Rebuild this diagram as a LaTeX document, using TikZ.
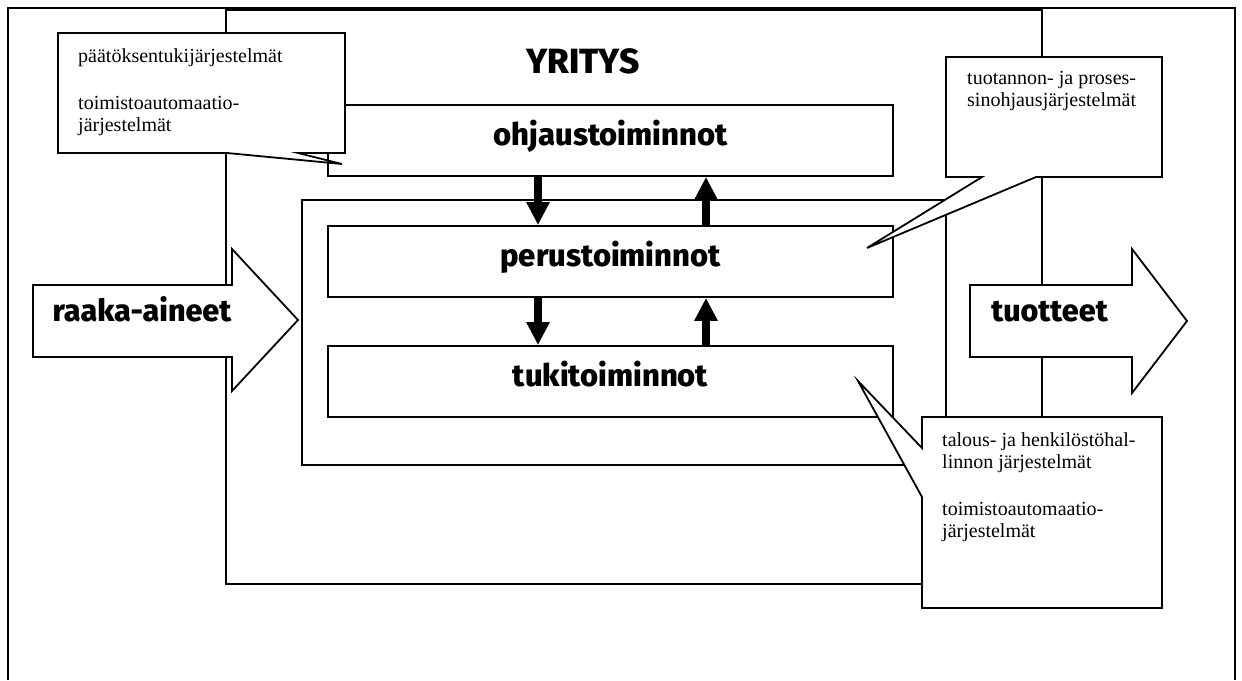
\documentclass[tikz,border=0pt]{standalone}
\usepackage{fontspec}
\setmainfont{Liberation Serif}
\newfontfamily\headfont{Fira Sans}[BoldFont={Fira Sans ExtraBold}]
\usetikzlibrary{arrows.meta}
\begin{document}
\begin{tikzpicture}[x=1pt,y=-1pt,
  frame/.style={line width=1.8pt},
  boxframe/.style={draw, line width=1.8pt, inner sep=0pt},
  stage/.style={boxframe, fill=white, minimum width=565pt, minimum height=71pt,
    text height=10pt, text depth=0pt,
    font=\headfont\bfseries\fontsize{31}{36}\selectfont},
  bigword/.style={inner sep=0pt, font=\headfont\bfseries\fontsize{30.5}{36}\selectfont},
  outline/.style={draw, line width=1.8pt, fill=white, line join=miter},
  note/.style={inner sep=0pt, anchor=north west, align=left,
    font=\fontsize{20}{22}\selectfont},
  vflow/.style={line width=8pt, -{Triangle[width=22pt,length=23pt]}}
]
\useasboundingbox (0,0) rectangle (1242,680);

% page frame, open at the bottom
\draw[frame] (8,680) -- (8,8) -- (1235,8) -- (1235,680);

% the company
\node[boxframe, minimum width=816pt, minimum height=574pt] (company) at (634,297) {};
\node[bigword, anchor=base, font=\headfont\bfseries\fontsize{35}{40}\selectfont] (title) at (583,73) {YRITYS};

% operational core
\node[boxframe, minimum width=644pt, minimum height=265pt] (core) at (624,332.5) {};

\node[stage] (ohj) at (610.5,140.5) {ohjaustoiminnot};
\node[stage] (per) at (610.5,261.5) {perustoiminnot};
\node[stage] (tuk) at (610.5,381.5) {tukitoiminnot};

% information flow between the levels
\draw[vflow] ([xshift=-72.5pt]ohj.south) -- ([xshift=-72.5pt]per.north);
\draw[vflow] ([xshift=95.5pt]per.north) -- ([xshift=95.5pt]ohj.south);
\draw[vflow] ([xshift=-72.5pt]per.south) -- ([xshift=-72.5pt]tuk.north);
\draw[vflow] ([xshift=95.5pt]tuk.north) -- ([xshift=95.5pt]per.south);

% inputs and outputs
\draw[outline] (33,285) -- (232,285) -- (232,249) -- (298,320) -- (232,391)
  -- (232,357) -- (33,357) -- cycle;
\node[bigword, anchor=base] (raw) at (142,321) {raaka-aineet};

\draw[outline] (970,285) -- (1132,285) -- (1132,249) -- (1187,321) -- (1132,393)
  -- (1132,357) -- (970,357) -- cycle;
\node[bigword, anchor=base] (out) at (1049.5,321) {tuotteet};

% information systems callouts
\draw[outline] (58,33) -- (345,33) -- (345,153) -- (298,153) -- (342,164)
  -- (227,153) -- (58,153) -- cycle;
\node[note] (n1) at (78,48.5) {päätöksentukijärjestelmät\\[25pt]toimistoautomaatio-\\järjestelmät};

\draw[outline] (946,57) -- (1162,57) -- (1162,177) -- (1036,177) -- (867,248)
  -- (982,177) -- (946,177) -- cycle;
\node[note] (n2) at (967,71.5) {tuotannon- ja proses-\\sinohjausjärjestelmät};

\draw[outline] (922,417) -- (1162,417) -- (1162,608) -- (922,608) -- (922,497)
  -- (858,381) -- (922,448) -- cycle;
\node[note] (n3) at (942,432.5) {talous- ja henkilöstöhal-\\linnon järjestelmät\\[25pt]toimistoautomaatio-\\järjestelmät};
\end{tikzpicture}
\end{document}
